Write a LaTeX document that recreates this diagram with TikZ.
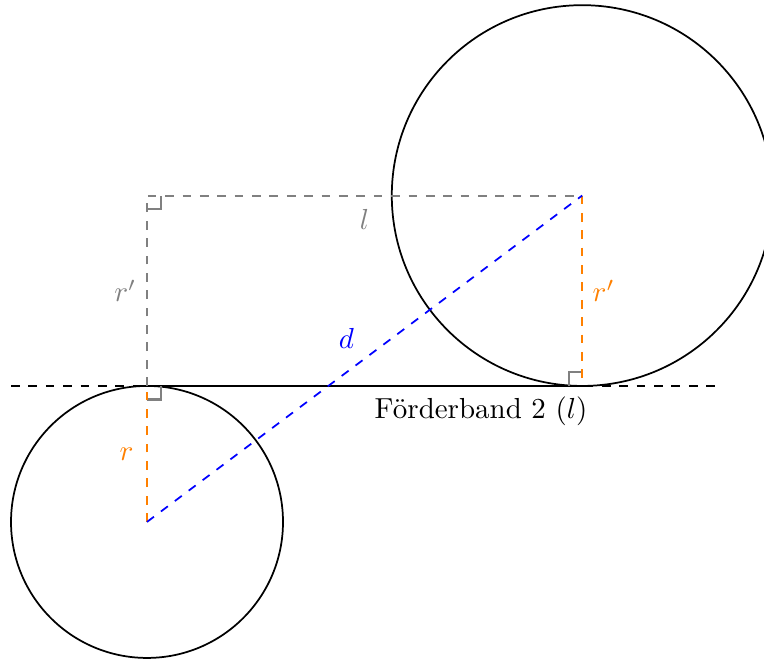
\documentclass[tikz,border=0pt]{standalone}
\usetikzlibrary{calc}
\begin{document}
\begin{tikzpicture}[x=1.65cm,y=1.65cm,
  circ/.style={semithick},
  aux/.style={dashed,semithick},
  ra/.style={gray,line width=0.75pt}]
\useasboundingbox (-1.081,-1.007) rectangle (4.537,3.838);
\coordinate (M1) at (0,0);
\coordinate (M2) at (3.2,2.4);
\coordinate (T1) at (0,1);
\coordinate (T2) at (3.2,1);
\coordinate (C) at (0,2.4);
\coordinate (L) at (-1,1);
\coordinate (R) at (4.2,1);
% circles
\draw[circ] (M1) circle (1);
\draw[circ] (M2) circle (1.4);
% belt
\draw[aux] (L) -- (R);
\draw[circ] (T1) -- node[below, pos=0.7675, yshift=0pt] (band) {F\"orderband 2 ($l$)} (T2);
% gray construction
\draw[aux,gray,line width=0.7pt] (T1) -- node[left] (rg) {$r'$} (C) -- node[below, yshift=-1pt] (lg) {$l$} (M2);
% right angle marks
\draw[ra] ($(C)+(0,-0.1)$) -- ++(0.1,0) -- ++(0,0.1);
\draw[ra] ($(T1)+(0,-0.1)$) -- ++(0.1,0) -- ++(0,0.1);
\draw[ra] ($(T2)+(-0.1,0)$) -- ++(0,0.1) -- ++(0.1,0);
% radii
\draw[aux,orange] (M1) -- node[left, pos=0.5, xshift=-1pt] (rr) {$r$} (T1);
\draw[aux,orange] (M2) -- node[right] (rr2) {$r'$} (T2);
% distance
\draw[aux,blue] (M1) -- node[above left, pos=0.5] (dd) {$d$} (M2);
\end{tikzpicture}
\end{document}
